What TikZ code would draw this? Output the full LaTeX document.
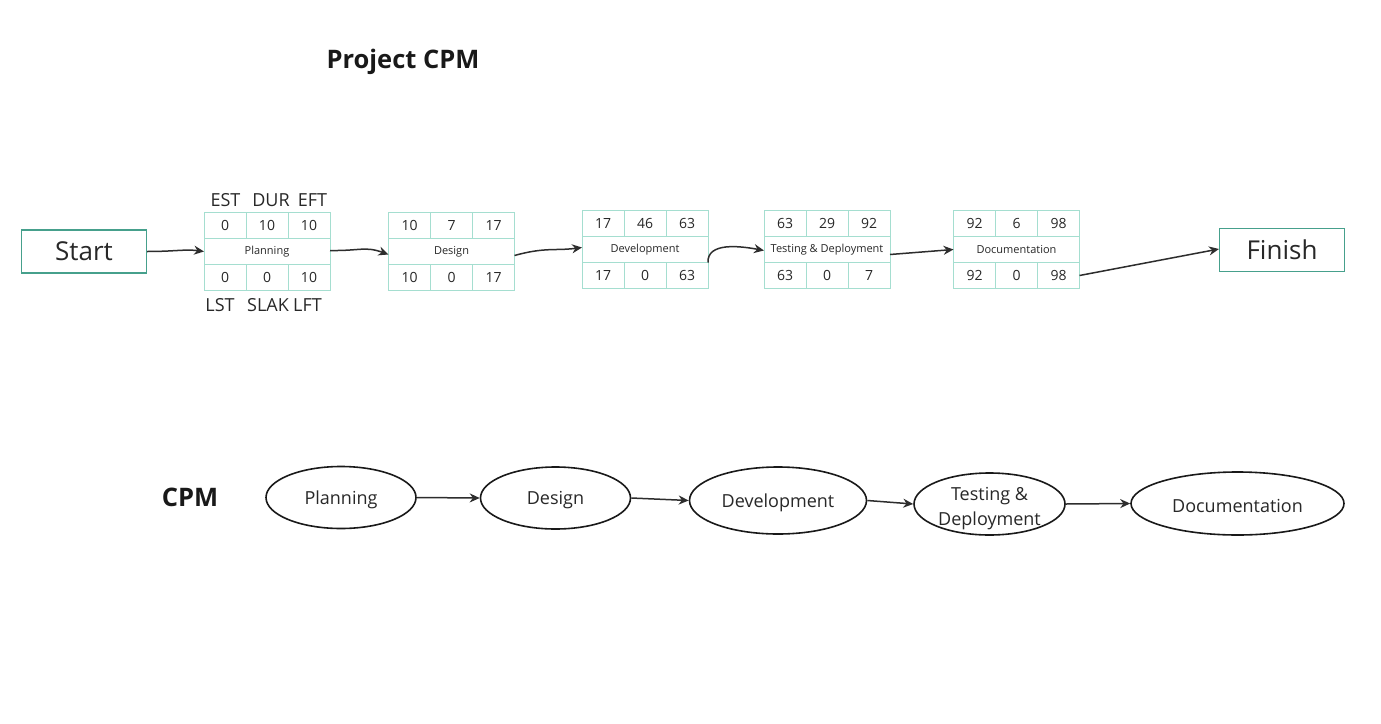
\documentclass[tikz,border=0pt]{standalone}
\usepackage{fontspec}
\setmainfont{Open Sans}
\usetikzlibrary{arrows.meta,shapes.geometric}
\definecolor{teal1}{RGB}{70,160,140}
\definecolor{cellc}{RGB}{165,222,208}
\definecolor{arrc}{RGB}{45,45,45}
\definecolor{txt}{RGB}{40,40,40}
\newcommand\lowr[1]{\raisebox{-2.5pt}[\height][\depth]{#1}}
\tikzset{
  cell/.style={draw=cellc, line width=0.9pt, minimum width=42pt, minimum height=26pt, inner sep=0pt, outer sep=0pt, text=txt, font=\fontsize{14}{16}\selectfont},
  midcell/.style={draw=cellc, line width=0.9pt, minimum width=126pt, minimum height=26pt, inner sep=0pt, outer sep=0pt, text=txt, font=\fontsize{11}{13}\selectfont},
  endbox/.style={draw=teal1, line width=1.1pt, minimum width=125pt, minimum height=43pt, inner sep=0pt, text=txt, font=\fontsize{26}{30}\selectfont},
  lbl/.style={text=txt, inner sep=0pt, anchor=base, font=\fontsize{18}{20}\selectfont},
  ell/.style={ellipse, draw=black!90, line width=1.6pt, inner sep=0pt, text=txt, font=\fontsize{18}{21}\selectfont, align=center},
  conn/.style={draw=arrc, line width=1.5pt, -{Stealth[length=10pt,width=9pt]}},
  ttl/.style={text=black!90, inner sep=0pt, font=\fontsize{25.5}{30}\selectfont\bfseries}
}
\newcommand\cpmbox[9]{%
  \node[cell, anchor=north west] (#1-a) at #2 {#3};
  \node[cell, anchor=west] (#1-b) at (#1-a.east) {#4};
  \node[cell, anchor=west] (#1-c) at (#1-b.east) {#5};
  \node[midcell, anchor=north west] (#1) at (#1-a.south west) {#6};
  \node[cell, anchor=north west] (#1-d) at (#1.south west) {#7};
  \node[cell, anchor=west] (#1-e) at (#1-d.east) {#8};
  \node[cell, anchor=west] (#1-f) at (#1-e.east) {#9};
}
\begin{document}
\begin{tikzpicture}[x=1pt,y=-1pt]
\useasboundingbox[fill=white] (0,0) rectangle (1381,723);

\node[ttl] (title) at (403,61.5) {Project CPM};

\node[endbox] (start) at (84,251.5) {Start};
\node[endbox] (finish) at (1282,250) {Finish};

\cpmbox{plan}{(204,212.5)}{0}{10}{10}{Planning}{0}{0}{10}
\cpmbox{des}{(388.5,212.5)}{10}{7}{17}{Design}{10}{0}{17}
\cpmbox{dev}{(582,210.5)}{17}{46}{63}{Development}{17}{0}{63}
\cpmbox{test}{(764,210.5)}{63}{29}{92}{Testing \& Deployment}{63}{0}{7}
\cpmbox{doc}{(953.5,210.5)}{92}{6}{98}{Documentation}{92}{0}{98}

\node[lbl] (est) at (225.5,206) {EST};
\node[lbl] (dur) at (271,206) {DUR};
\node[lbl] (eft) at (312.5,206) {EFT};
\node[lbl] (lst) at (220,311) {LST};
\node[lbl] (slak) at (268,311) {SLAK};
\node[lbl] (lft) at (307.5,311) {LFT};

\draw[conn] (start.east) .. controls (175,251.5) and (185,249) .. (plan.west);
\draw[conn] ([yshift=1pt]plan.east) .. controls (360,251) and (365,246) .. ([yshift=-3pt]des.west);
\draw[conn] ([yshift=-4pt]des.east) .. controls (545,247) and (555,251) .. ([yshift=2pt]dev.west);
\draw[conn] (dev.south east) .. controls (707,242) and (740,246) .. ([yshift=-1pt]test.west);
\draw[conn] ([yshift=-5pt]test.east) -- (doc.west);
\draw[conn] (doc-f.east) -- ([yshift=1pt]finish.west);

\node[ttl] (cpm) at (190,497) {CPM};
\node[ell, minimum width=150pt, minimum height=62pt] (e1) at (341,497.5) {\lowr{Planning}};
\node[ell, minimum width=150pt, minimum height=62pt] (e2) at (555.5,498) {\lowr{Design}};
\node[ell, minimum width=177pt, minimum height=67pt] (e3) at (778,500.5) {\lowr{Development}};
\node[ell, minimum width=151pt, minimum height=62pt] (e4) at (989.5,504) {};
\node[text=txt, font=\fontsize{18}{25}\selectfont, align=center, inner sep=0pt] (e4t) at (989.5,509) {Testing \&\\Deployment};
\node[ell, minimum width=213pt, minimum height=63pt] (e5) at (1237.5,503.5) {\lowr{Documentation}};

\draw[conn] (e1.east) -- (e2.west);
\draw[conn] (e2.east) -- (e3.west);
\draw[conn] (e3.east) -- (e4.west);
\draw[conn] (e4.east) -- (e5.west);
\end{tikzpicture}
\end{document}
